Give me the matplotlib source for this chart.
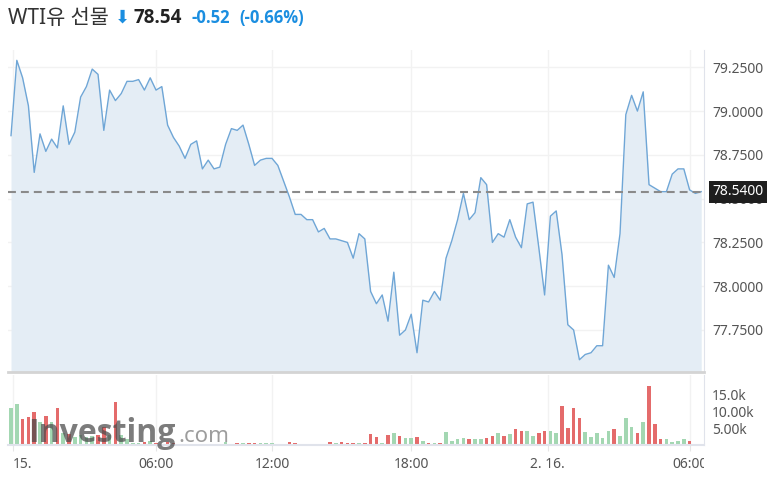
"""WTI crude futures intraday chart (price line + volume), Investing.com style."""
import matplotlib
matplotlib.use("Agg")
import matplotlib.pyplot as plt
import numpy as np
from matplotlib.transforms import Bbox, TransformedBbox, blended_transform_factory

plt.rcParams["font.family"] = ["Noto Sans", "Noto Sans CJK KR", "DejaVu Sans"]
BOLD_FAMILY = ["Open Sans", "DejaVu Sans"]

TITLE = "WTI유 선물"
LAST = "78.54"
CHANGE = "-0.52"
CHANGE_PCT = "(-0.66%)"
last_price = 78.54

# one value per bar
price = [
    78.86, 79.29, 79.19, 79.03, 78.65, 78.87, 78.77, 78.84, 78.79, 79.03,
    78.81, 78.88, 79.08, 79.14, 79.24, 79.21, 78.89, 79.12, 79.06, 79.10,
    79.17, 79.17, 79.18, 79.12, 79.19, 79.12, 79.14, 78.92, 78.85, 78.80,
    78.73, 78.81, 78.83, 78.67, 78.72, 78.67, 78.68, 78.81, 78.90, 78.89,
    78.92, 78.81, 78.69, 78.72, 78.73, 78.73, 78.69, 78.60, 78.51, 78.41,
    78.41, 78.38, 78.38, 78.31, 78.33, 78.27, 78.27, 78.26, 78.25, 78.16,
    78.30, 78.27, 77.97, 77.90, 77.95, 77.80, 78.08, 77.72, 77.75, 77.84,
    77.62, 77.92, 77.91, 77.97, 77.92, 78.16, 78.26, 78.38, 78.53, 78.38,
    78.42, 78.62, 78.58, 78.25, 78.30, 78.28, 78.38, 78.28, 78.22, 78.47,
    78.48, 78.22, 77.95, 78.40, 78.43, 78.18, 77.78, 77.75, 77.58, 77.61,
    77.62, 77.66, 77.66, 78.12, 78.05, 78.30, 78.98, 79.09, 79.00, 79.11,
    78.58, 78.56, 78.54, 78.54, 78.64, 78.67, 78.67, 78.55, 78.53, 78.54,
]
volume_k = [
    11.0, 12.3, 7.6, 8.2, 9.7, 7.0, 8.6, 6.8, 10.9, 3.5,
    3.4, 2.5, 3.0, 2.5, 2.8, 3.1, 5.4, 3.0, 12.7, 3.0,
    1.8, 0.8, 0.7, 1.0, 1.3, 0.7, 0.5, 1.0, 0.7, 0.3,
    0.4, 0.3, 0.3, 0.4, 0.4, 0.4, 0.3, 1.0, 0.5, 0.6,
    0.8, 0.8, 0.8, 0.6, 0.6, 0.7, 0.4, 0.3, 1.1, 0.7,
    0.3, 0.3, 0.3, 0.3, 0.3, 1.1, 0.8, 1.1, 0.8, 0.8,
    0.8, 0.8, 3.3, 2.5, 0.8, 2.9, 3.7, 2.8, 2.2, 2.2,
    2.5, 1.4, 0.8, 0.7, 0.7, 4.0, 1.4, 1.8, 2.2, 1.8,
    1.8, 1.8, 2.2, 2.8, 3.5, 2.8, 3.3, 4.7, 4.3, 4.3,
    2.8, 3.6, 4.3, 4.3, 3.6, 11.7, 5.0, 10.9, 7.9, 4.0,
    2.5, 3.6, 2.2, 4.3, 4.7, 2.8, 7.9, 5.4, 3.6, 6.8,
    17.5, 6.2, 1.8, 1.8, 1.1, 1.4, 1.8, 1.4, 0.4, 0.2,
]

tick_pos = [0.35, 25, 45, 69, 92.5, 117]
tick_labels = ["15.", "06:00", "12:00", "18:00", "2. 16.", "06:00"]
price_ticks = [77.75, 78.0, 78.25, 78.5, 78.75, 79.0, 79.25]
vol_ticks = [5, 10, 15]
vol_labels = ["5.00k", "10.00k", "15.0k"]

LINE = "#6fa6d6"
FILL = "#e4edf5"
UP = "#a3d7b2"
DOWN = "#e46b6b"
BLUE = "#1b8ee0"
GRID = "#f2f2f2"
EDGE = "#e0e3eb"
LABEL = "#555555"

W, H = 777, 483


def box(x0, y0, x1, y1):
    """pixel box (y measured from the top) -> figure fraction rect"""
    return [x0 / W, 1 - y1 / H, (x1 - x0) / W, (y1 - y0) / H]


fig = plt.figure(figsize=(W / 100, H / 100), dpi=100)
ax = fig.add_axes(box(8, 50, 704, 372))
axv = fig.add_axes(box(8, 375, 704, 445.3), sharex=ax)

x = np.arange(len(price))
p_floor = 77.51

# price panel
ax.fill_between(x, price, p_floor, color=FILL, lw=0, zorder=1)
ax.plot(x, price, color=LINE, lw=1.0, zorder=2)
ax.axhline(last_price, color="#8a8a8a", lw=1.5, ls=(0, (3.8, 2.4)), zorder=3)
ax.set_ylim(p_floor, 79.349)
ax.set_xlim(-0.52, 119.48)
ax.set_yticks(price_ticks, [f"{v:.4f}" for v in price_ticks])
ax.yaxis.tick_right()
ax.tick_params(axis="y", length=0, pad=5.8, labelsize=10, labelcolor=LABEL)
ax.tick_params(axis="x", length=0, labelbottom=False)
ax.grid(color=GRID, lw=1)
ax.set_axisbelow(True)
for s in ("top", "left"):
    ax.spines[s].set_visible(False)
ax.spines["right"].set_color(EDGE)
ax.spines["bottom"].set_color("#d4d4d4")
ax.spines["bottom"].set_linewidth(2)

ax.annotate("78.5400", xy=(1, last_price),
            xycoords=blended_transform_factory(ax.transAxes, ax.transData),
            xytext=(5.8, 0), textcoords="offset points", ha="left", va="center",
            fontsize=10, color="white", annotation_clip=False, zorder=5,
            bbox=dict(boxstyle="square,pad=0.25", fc="#1e1e1e", ec="none"))

# volume panel
colors = [UP] + [UP if price[i] >= price[i - 1] else DOWN for i in range(1, len(price))]
axv.bar(x, volume_k, width=0.6, color=colors, zorder=2)
axv.set_ylim(0, 20.7)
axv.set_yticks(vol_ticks, vol_labels)
axv.yaxis.tick_right()
axv.tick_params(axis="y", length=0, pad=5.8, labelsize=10, labelcolor=LABEL)
axv.set_xticks(tick_pos, tick_labels)
axv.tick_params(axis="x", length=4.5, color="#e6e6e6", pad=4, labelsize=10,
                labelcolor=LABEL)
axv.grid(axis="x", color=GRID, lw=1)
axv.set_axisbelow(True)
for s in ("top", "left"):
    axv.spines[s].set_visible(False)
axv.spines["right"].set_color(EDGE)
axv.spines["bottom"].set_color(EDGE)
axv.spines["bottom"].set_linewidth(1.5)

clip = TransformedBbox(Bbox([[0, 0], [704 / W, 1]]), fig.transFigure)
ticks = axv.xaxis.get_major_ticks()
ticks[0].label1.set_horizontalalignment("left")
for t in ticks:
    t.label1.set_clip_box(clip)
    t.label1.set_clip_on(True)

# header
ty = 1 - 18 / H
fig.text(8 / W, ty, TITLE, fontsize=15, color="#333333", va="center")
fig.text(115 / W, ty, "⬇", fontsize=13, color=BLUE, va="center",
         family=["DejaVu Sans"])
fig.text(134 / W, ty, LAST, fontsize=13.5, weight="bold", color="#222222",
         va="center", family=BOLD_FAMILY)
fig.text(192 / W, ty, CHANGE, fontsize=12, weight="bold", color=BLUE,
         va="center", family=BOLD_FAMILY)
fig.text(239 / W, ty, CHANGE_PCT, fontsize=12, weight="bold", color=BLUE,
         va="center", family=BOLD_FAMILY)

# watermark
fig.text(28 / W, 1 - 442 / H, "Investing", fontsize=23, weight="bold",
         color="#4a4a4a", alpha=0.72, va="baseline", family=BOLD_FAMILY)
fig.text(178 / W, 1 - 442 / H, ".com", fontsize=16, color="#8c8c8c",
         alpha=0.85, va="baseline")

fig.savefig("out.png", dpi=100)
